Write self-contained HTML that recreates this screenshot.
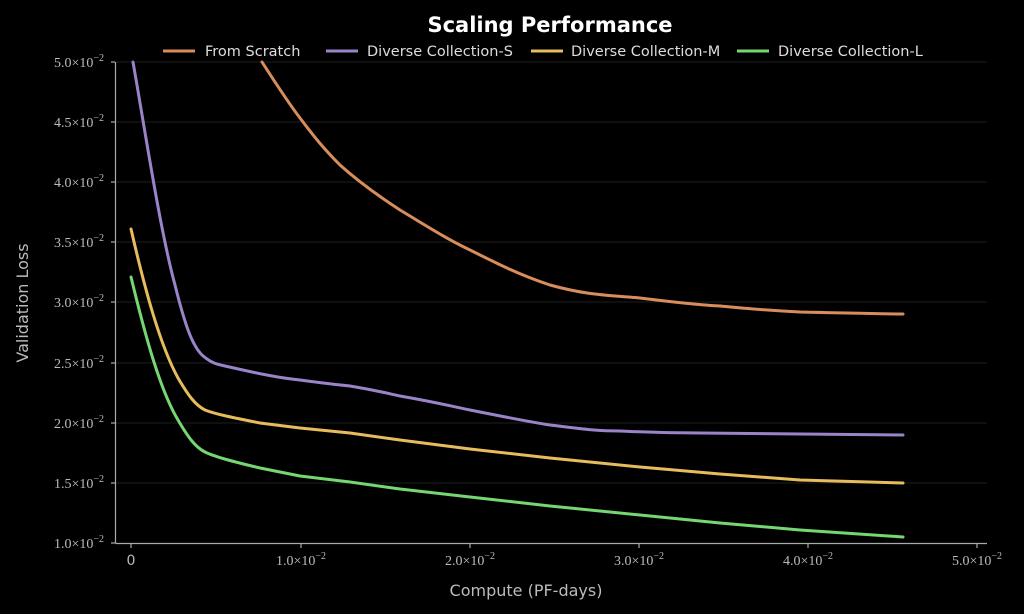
<!DOCTYPE html>
<html><head><style>body{margin:0;background:#000}svg{display:block}</style></head><body>
<svg width="1024" height="614" xmlns="http://www.w3.org/2000/svg" font-family="DejaVu Sans, Liberation Sans, sans-serif">
<rect width="1024" height="614" fill="#000"/>
<g stroke="#1e1e1e" stroke-width="1">
<line x1="116" x2="987" y1="62" y2="62"/><line x1="116" x2="987" y1="122" y2="122"/><line x1="116" x2="987" y1="182" y2="182"/><line x1="116" x2="987" y1="242" y2="242"/><line x1="116" x2="987" y1="302" y2="302"/><line x1="116" x2="987" y1="363" y2="363"/><line x1="116" x2="987" y1="423" y2="423"/><line x1="116" x2="987" y1="483" y2="483"/>
</g>
<g stroke="#aaa" stroke-width="1.2">
<line x1="115.5" y1="62" x2="115.5" y2="543.5"/><line x1="115.5" y1="543.5" x2="987" y2="543.5"/>
<line x1="111" x2="115" y1="62" y2="62"/><line x1="111" x2="115" y1="122" y2="122"/><line x1="111" x2="115" y1="182" y2="182"/><line x1="111" x2="115" y1="242" y2="242"/><line x1="111" x2="115" y1="302" y2="302"/><line x1="111" x2="115" y1="363" y2="363"/><line x1="111" x2="115" y1="423" y2="423"/><line x1="111" x2="115" y1="483" y2="483"/><line x1="111" x2="115" y1="543" y2="543"/>
<line x1="131" x2="131" y1="544" y2="548"/><line x1="301" x2="301" y1="544" y2="548"/><line x1="470" x2="470" y1="544" y2="548"/><line x1="639" x2="639" y1="544" y2="548"/><line x1="808" x2="808" y1="544" y2="548"/><line x1="977" x2="977" y1="544" y2="548"/>
</g>
<g fill="#bbb" font-family="Liberation Serif, serif" font-size="14" text-anchor="end">
<text x="104" y="67">5.0×10<tspan dy="-6" font-size="10">−2</tspan></text>
<text x="104" y="127">4.5×10<tspan dy="-6" font-size="10">−2</tspan></text>
<text x="104" y="187">4.0×10<tspan dy="-6" font-size="10">−2</tspan></text>
<text x="104" y="247">3.5×10<tspan dy="-6" font-size="10">−2</tspan></text>
<text x="104" y="307">3.0×10<tspan dy="-6" font-size="10">−2</tspan></text>
<text x="104" y="368">2.5×10<tspan dy="-6" font-size="10">−2</tspan></text>
<text x="104" y="428">2.0×10<tspan dy="-6" font-size="10">−2</tspan></text>
<text x="104" y="488">1.5×10<tspan dy="-6" font-size="10">−2</tspan></text>
<text x="104" y="548">1.0×10<tspan dy="-6" font-size="10">−2</tspan></text>
</g>
<g fill="#bbb" font-family="Liberation Serif, serif" font-size="14" text-anchor="middle">
<text x="131" y="565" font-family="DejaVu Sans, sans-serif" font-size="14">0</text>
<text x="301" y="565">1.0×10<tspan dy="-6" font-size="10">−2</tspan></text>
<text x="470" y="565">2.0×10<tspan dy="-6" font-size="10">−2</tspan></text>
<text x="639" y="565">3.0×10<tspan dy="-6" font-size="10">−2</tspan></text>
<text x="808" y="565">4.0×10<tspan dy="-6" font-size="10">−2</tspan></text>
<text x="977" y="565">5.0×10<tspan dy="-6" font-size="10">−2</tspan></text>
</g>
<text x="526" y="596" fill="#bbb" font-size="16" text-anchor="middle">Compute (PF-days)</text>
<text transform="translate(28,303) rotate(-90)" fill="#bbb" font-size="16" text-anchor="middle">Validation Loss</text>
<text x="550" y="32" fill="#fff" font-size="21" font-weight="bold" text-anchor="middle">Scaling Performance</text>
<g stroke-width="3" fill="none" stroke-linecap="round" stroke-linejoin="round">
<path stroke="#d98d5c" d="M262,62 C280,90 290,105 300,118 C315,138 325,150 340,165 C360,183 380,197 400,210 C425,225 445,238 470,250 C500,265 520,275 550,285 C590,296 610,295 640,298 C680,303 700,305 720,306 C760,310 780,311 800,312 C850,313 880,314 903,314"/>
<path stroke="#9a84c9" d="M133,62 C145,130 160,230 175,285 C185,325 192,345 202,355 C210,362 215,364 225,366 C260,374 280,378 300,380 C330,384 340,385 350,386 C380,391 390,394 400,396 C440,403 450,406 470,410 C510,418 530,422 550,425 C590,430 600,431 620,431 C660,433 680,433 700,433 L903,435"/>
<path stroke="#e6bc5c" d="M131,229 C145,290 160,345 178,378 C188,395 195,405 205,410 C215,414 230,417 260,423 L300,428 L350,433 L400,440 L470,449 L550,458 L640,467 L720,474 L800,480 L903,483"/>
<path stroke="#76d672" d="M131,277 C145,335 160,390 178,420 C188,437 195,447 205,452 C215,457 235,462 260,468 L300,476 L350,482 L400,489 L470,497 L550,506 L640,515 L720,523 L800,530 L903,537"/>
</g>
<g stroke-width="3">
<line x1="163" x2="195" y1="51" y2="51" stroke="#d98d5c"/>
<line x1="326" x2="358" y1="51" y2="51" stroke="#9a84c9"/>
<line x1="531" x2="563" y1="51" y2="51" stroke="#e6bc5c"/>
<line x1="737" x2="769" y1="51" y2="51" stroke="#76d672"/>
</g>
<g fill="#ddd" font-size="14.5">
<text x="205" y="56">From Scratch</text>
<text x="367" y="56">Diverse Collection-S</text>
<text x="571" y="56">Diverse Collection-M</text>
<text x="778" y="56">Diverse Collection-L</text>
</g>
</svg>
</body></html>
